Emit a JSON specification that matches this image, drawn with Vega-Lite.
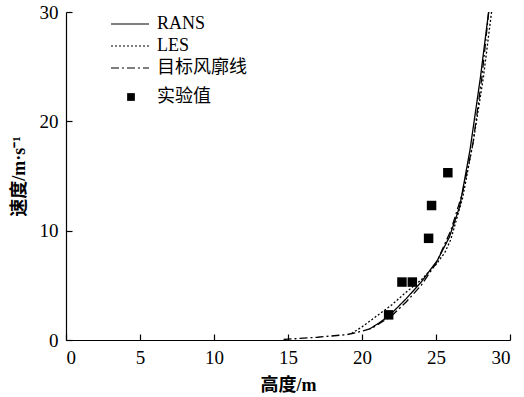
{
  "$schema": "https://vega.github.io/schema/vega-lite/v6.json",
  "autosize": {"type": "none"},
  "padding": {"left": 66, "top": 12, "right": 14, "bottom": 57},
  "width": 444,
  "height": 328,
  "background": "white",
  "config": {
    "view": {"stroke": null},
    "axis": {
      "grid": false,
      "domainColor": "black",
      "domainWidth": 1.2,
      "tickColor": "black",
      "tickSize": -6,
      "tickWidth": 1.2,
      "labelFont": "Liberation Serif",
      "labelFontSize": 19,
      "labelColor": "black",
      "titleFont": "Liberation Serif, Noto Sans CJK SC",
      "titleFontSize": 18,
      "titleFontWeight": "bold",
      "titleColor": "black"
    },
    "legend": {
      "labelFont": "Liberation Serif, Noto Sans CJK SC",
      "labelFontSize": 18,
      "labelColor": "black"
    }
  },
  "datasets": {
    "lines": [
      {"series": "RANS", "h": 20.5, "v": 1.0},
      {"series": "RANS", "h": 21.2, "v": 1.6},
      {"series": "RANS", "h": 21.9, "v": 2.3},
      {"series": "RANS", "h": 23.0, "v": 3.8},
      {"series": "RANS", "h": 24.0, "v": 5.3},
      {"series": "RANS", "h": 25.1, "v": 7.3},
      {"series": "RANS", "h": 25.9, "v": 9.4},
      {"series": "RANS", "h": 26.6, "v": 12.2},
      {"series": "RANS", "h": 27.3, "v": 17.4},
      {"series": "RANS", "h": 28.0, "v": 24.0},
      {"series": "RANS", "h": 28.6, "v": 30.5},
      {"series": "LES", "h": 19.3, "v": 0.6},
      {"series": "LES", "h": 20.0, "v": 1.2},
      {"series": "LES", "h": 21.0, "v": 2.2},
      {"series": "LES", "h": 22.0, "v": 3.2},
      {"series": "LES", "h": 23.0, "v": 4.4},
      {"series": "LES", "h": 24.0, "v": 5.5},
      {"series": "LES", "h": 25.0, "v": 6.9},
      {"series": "LES", "h": 25.6, "v": 8.0},
      {"series": "LES", "h": 26.0, "v": 9.2},
      {"series": "LES", "h": 26.8, "v": 13.0},
      {"series": "LES", "h": 27.5, "v": 18.0},
      {"series": "LES", "h": 28.2, "v": 24.0},
      {"series": "LES", "h": 28.8, "v": 30.5},
      {"series": "目标风廓线", "h": 14.7, "v": 0.05},
      {"series": "目标风廓线", "h": 17.0, "v": 0.25},
      {"series": "目标风廓线", "h": 19.0, "v": 0.5},
      {"series": "目标风廓线", "h": 20.0, "v": 0.8},
      {"series": "目标风廓线", "h": 20.7, "v": 1.1},
      {"series": "目标风廓线", "h": 22.0, "v": 2.2},
      {"series": "目标风廓线", "h": 23.0, "v": 3.5},
      {"series": "目标风廓线", "h": 24.0, "v": 5.0},
      {"series": "目标风廓线", "h": 25.0, "v": 7.0},
      {"series": "目标风廓线", "h": 26.0, "v": 10.0},
      {"series": "目标风廓线", "h": 26.8, "v": 13.5},
      {"series": "目标风廓线", "h": 27.5, "v": 18.0},
      {"series": "目标风廓线", "h": 28.1, "v": 24.0},
      {"series": "目标风廓线", "h": 28.6, "v": 30.5}
    ],
    "points": [
      {"type": "实验值", "h": 21.8, "v": 2.3},
      {"type": "实验值", "h": 22.7, "v": 5.3},
      {"type": "实验值", "h": 23.4, "v": 5.3},
      {"type": "实验值", "h": 24.5, "v": 9.3},
      {"type": "实验值", "h": 24.7, "v": 12.3},
      {"type": "实验值", "h": 25.8, "v": 15.3}
    ]
  },
  "layer": [
    {
      "data": {"name": "lines"},
      "mark": {"type": "line", "color": "black", "strokeWidth": 1.3, "clip": true},
      "encoding": {
        "x": {"field": "h", "type": "quantitative", "scale": {"domain": [0, 30]}, "axis": {"values": [0, 5, 10, 15, 20, 25, 30], "title": "高度/m", "titlePadding": 9, "labelPadding": 14, "labelFont": "Liberation Serif"}},
        "y": {"field": "v", "type": "quantitative", "scale": {"domain": [0, 30]}, "axis": {"values": [0, 10, 20, 30], "title": "速度/m·s⁻¹", "titlePadding": 11, "labelPadding": 14, "labelFont": "Liberation Serif"}},
        "strokeDash": {
          "field": "series", "type": "nominal",
          "scale": {"domain": ["RANS", "LES", "目标风廓线"], "range": [[1, 0], [2, 2], [8, 3, 2, 3]]},
          "legend": {"title": null, "orient": "none", "legendX": 53, "legendY": 1, "symbolType": "M-1.9,0H1.9", "symbolSize": 400, "symbolStrokeWidth": 1.2, "symbolStrokeColor": "black", "rowPadding": 2, "labelOffset": 16}
        },
        "order": {"field": "h", "type": "quantitative"}
      }
    },
    {
      "data": {"name": "points"},
      "mark": {"type": "point", "shape": "square", "filled": true, "color": "black", "size": 90, "opacity": 1},
      "encoding": {
        "x": {"field": "h", "type": "quantitative"},
        "y": {"field": "v", "type": "quantitative"},
        "shape": {
          "field": "type", "type": "nominal",
          "scale": {"range": ["square"]},
          "legend": {"title": null, "orient": "none", "legendX": 56, "legendY": 76, "symbolFillColor": "black", "symbolStrokeColor": "black", "symbolSize": 60, "labelOffset": 17}
        }
      }
    }
  ]
}
